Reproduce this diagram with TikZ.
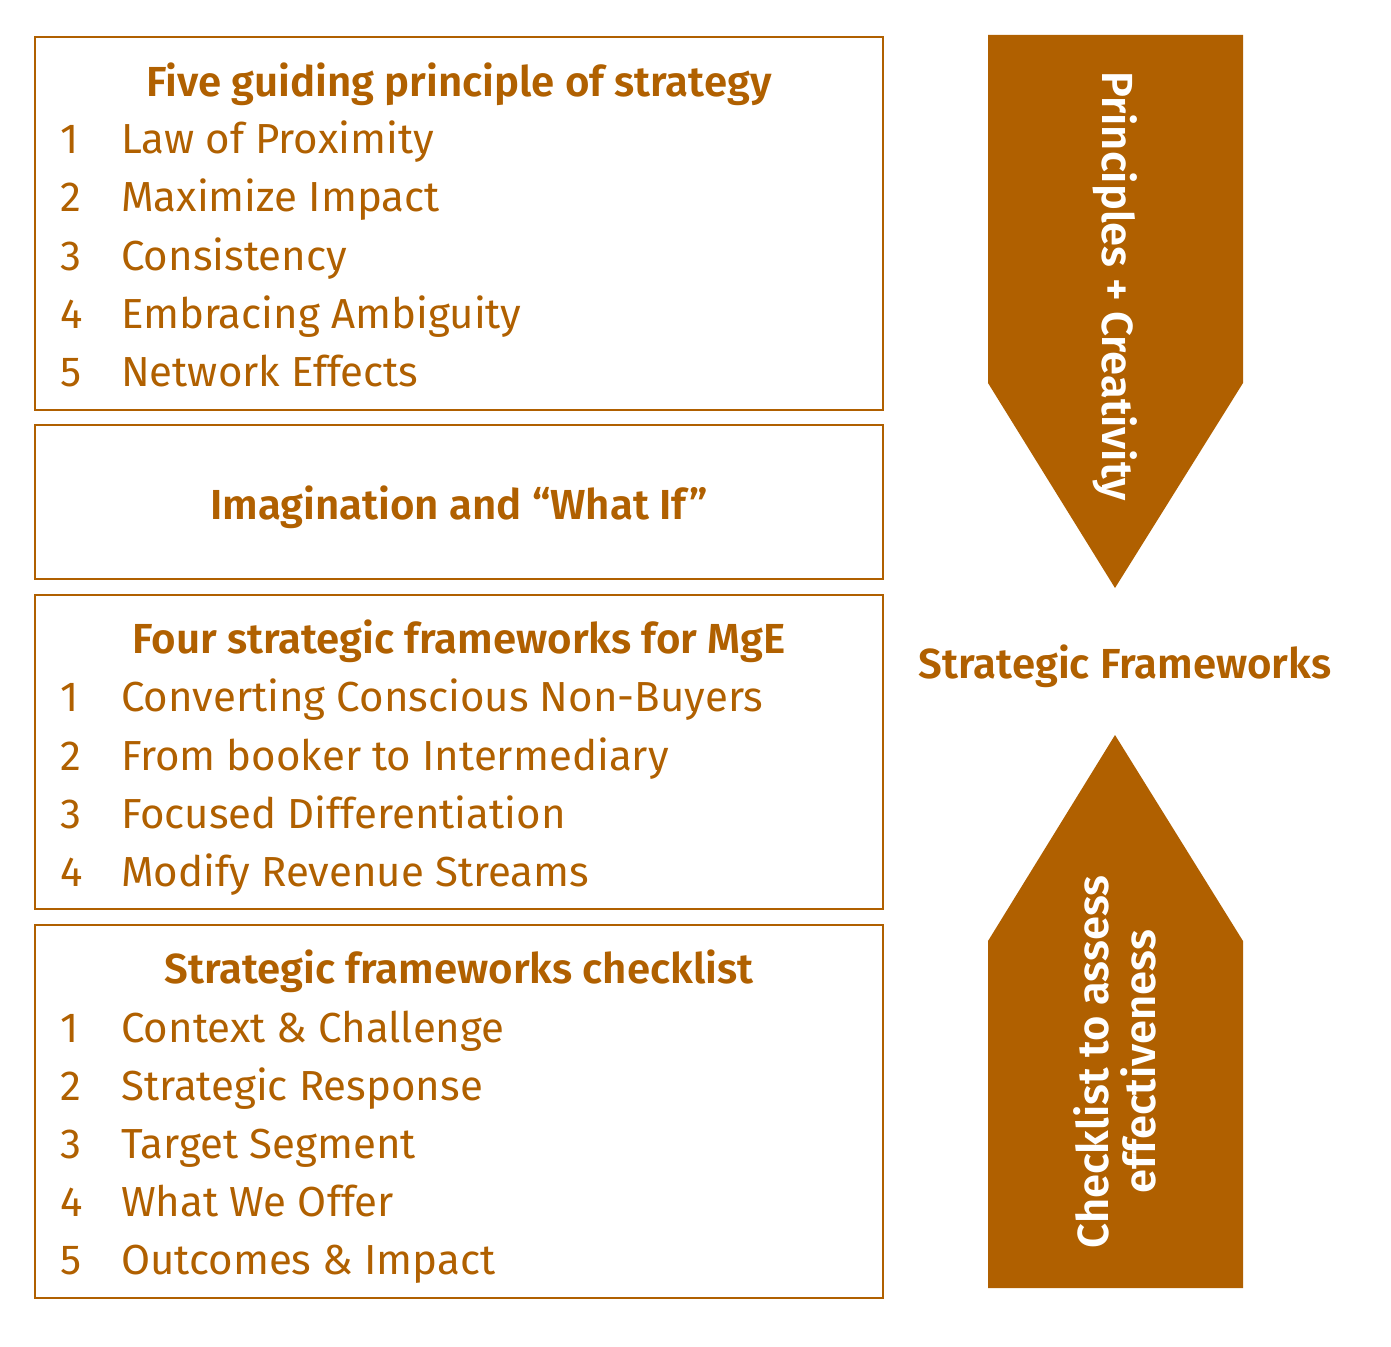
\documentclass[tikz,border=0pt]{standalone}
\usepackage{fontspec}
\setmainfont{Fira Sans}
\newfontfamily\semifont{Fira Sans SemiBold}
\definecolor{ochre}{HTML}{B06000}
\begin{document}
\begin{tikzpicture}[x=1pt, y=-1pt, every node/.style={text=ochre, inner sep=0pt},
    frame/.style={draw=ochre, line width=2pt, minimum width=848pt},
    head/.style={font=\fontsize{42}{50}\semifont, anchor=base},
    num/.style={font=\fontsize{42}{50}\selectfont, anchor=base west},
    item/.style={font=\fontsize{42}{50}\selectfont, anchor=base west},
    side/.style={text=white, font=\fontsize{43.5}{47}\semifont}]
    \useasboundingbox (0,0) rectangle (1391,1346);

    % Frames
    \node[frame, minimum height=373pt] at (459, 223.5) (f1) {};
    \node[frame, minimum height=154pt] at (459, 502) (f2) {};
    \node[frame, minimum height=314pt] at (459, 752) (f3) {};
    \node[frame, minimum height=373pt] at (459, 1111.5) (f4) {};

    % Five guiding principles
    \node[head] at (459, 96) (h1) {Five guiding principle of strategy};
    \node[num] at (60, 153) (n11) {1}; \node[item] at (121, 153) (i11) {Law of Proximity};
    \node[num] at (60, 211) (n12) {2}; \node[item] at (121, 211) (i12) {Maximize Impact};
    \node[num] at (60, 270) (n13) {3}; \node[item] at (121, 270) (i13) {Consistency};
    \node[num] at (60, 328) (n14) {4}; \node[item] at (121, 328) (i14) {Embracing Ambiguity};
    \node[num] at (60, 386) (n15) {5}; \node[item] at (121, 386) (i15) {Network Effects};

    % Imagination
    \node[head] at (459, 519) (h2) {Imagination and “What If”};

    % Four frameworks
    \node[head] at (459, 653) (h3) {Four strategic frameworks for MgE};
    \node[num] at (60, 711) (n31) {1}; \node[item] at (121, 711) (i31) {Converting Conscious Non-Buyers};
    \node[num] at (60, 770) (n32) {2}; \node[item] at (121, 770) (i32) {From booker to Intermediary};
    \node[num] at (60, 828) (n33) {3}; \node[item] at (121, 828) (i33) {Focused Differentiation};
    \node[num] at (60, 886) (n34) {4}; \node[item] at (121, 886) (i34) {Modify Revenue Streams};

    % Checklist
    \node[head] at (459, 983) (h4) {Strategic frameworks checklist};
    \node[num] at (60, 1042) (n41) {1}; \node[item] at (121, 1042) (i41) {Context \& Challenge};
    \node[num] at (60, 1100) (n42) {2}; \node[item] at (121, 1100) (i42) {Strategic Response};
    \node[num] at (60, 1158) (n43) {3}; \node[item] at (121, 1158) (i43) {Target Segment};
    \node[num] at (60, 1216) (n44) {4}; \node[item] at (121, 1216) (i44) {What We Offer};
    \node[num] at (60, 1274) (n45) {5}; \node[item] at (121, 1274) (i45) {Outcomes \& Impact};

    % Arrows
    \fill[ochre] (988, 35) -- (1243, 35) -- (1243, 383) -- (1115, 588) -- (988, 383) -- cycle;
    \fill[ochre] (988, 1288) -- (1243, 1288) -- (1243, 941) -- (1115, 735) -- (988, 941) -- cycle;
    \node[side, rotate=-90] at (1115, 286) (pc) {Principles + Creativity};
    \node[side, rotate=90, align=center] at (1115, 1062) (ce) {Checklist to assess\\effectiveness};

    \node[head] at (1125, 678) (sf) {Strategic Frameworks};
\end{tikzpicture}
\end{document}
